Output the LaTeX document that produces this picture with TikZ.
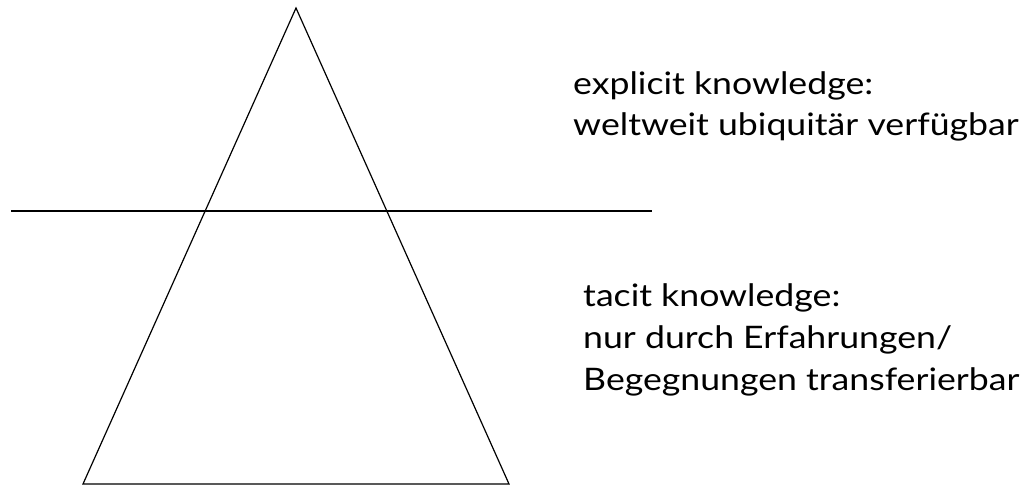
\documentclass[tikz,border=0pt]{standalone}
\usepackage{fontspec}
\setmainfont{Lato}[FakeStretch=1.15]
\begin{document}
\begin{tikzpicture}[x=1pt,y=1pt,
  edge/.style={line width=1.2pt,black},
  lbl/.style={anchor=base west,inner sep=0pt,font=\fontsize{31}{42}\selectfont}]
\useasboundingbox (0,0) rectangle (1024,486);
\coordinate (apex) at (296,478);
\coordinate (bl) at (83,2);
\coordinate (br) at (509,2);
\coordinate (hl) at (11,275);
\coordinate (hr) at (652,275);
\draw[edge] (apex) -- (bl) -- (br) -- cycle;
\draw[edge] (hl) -- (hr);
\node[lbl] (e1) at (573,391) {explicit knowledge:};
\node[lbl] (e2) at (573,350) {weltweit ubiquitär verfügbar};
\node[lbl] (t1) at (583,179) {tacit knowledge:};
\node[lbl] (t2) at (583,137) {nur durch Erfahrungen/};
\node[lbl] (t3) at (583,95) {Begegnungen transferierbar};
\end{tikzpicture}
\end{document}
